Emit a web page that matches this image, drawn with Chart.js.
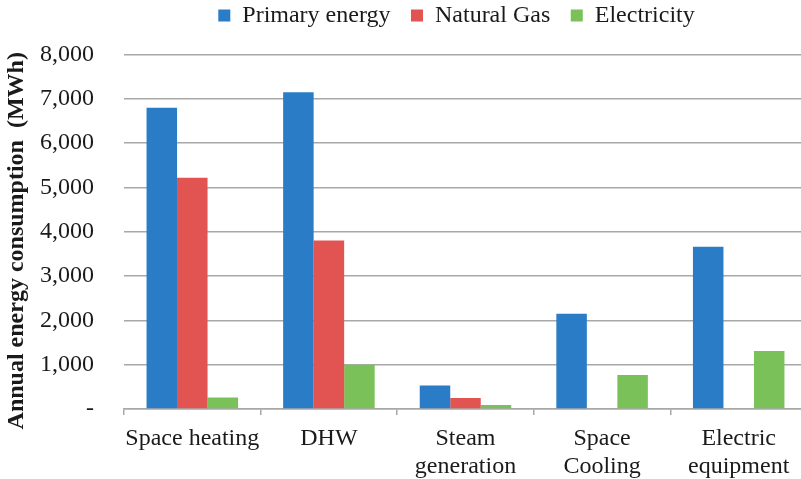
<!DOCTYPE html>
<html>
<head>
<meta charset="utf-8">
<script src="https://cdn.jsdelivr.net/npm/chart.js@4/dist/chart.umd.min.js"></script>
<style>
  html, body { margin: 0; padding: 0; background: #ffffff; overflow: hidden; }
  #wrap { width: 807px; height: 479px; position: relative; }
</style>
</head>
<body>
<div id="wrap"><canvas id="chart"></canvas></div>
<script>
// End uses and annual consumption per energy carrier (MWh)
const categories = [
  'Space heating',
  'DHW',
  ['Steam', 'generation'],
  ['Space', 'Cooling'],
  ['Electric', 'equipment']
];
const primaryEnergy = [6800, 7150, 530, 2150, 3660];
const naturalGas    = [5220, 3800, 250, 0, 0];
const electricity   = [260, 1000, 90, 770, 1310];

const seriesNames = ['Primary energy', 'Natural Gas', 'Electricity'];
const yMax = 8000;
const yStep = 1000;
const yTitle = 'Annual energy consumption  (MWh)   ';

const serif = "'Liberation Serif', 'Times New Roman', serif";
const textColor = '#1a1a1a';
const gridColor = '#a8a8a8';

// Nudge the legend into the top strip once the layout is known
const legendPlacement = {
  id: 'legendPlacement',
  afterLayout(chart) {
    const lg = chart.legend;
    if (!lg) return;
    lg.left -= 9;
    lg.right -= 9;
    lg.top -= 17;
    lg.bottom -= 17;
  }
};

new Chart(document.getElementById('chart'), {
  type: 'bar',
  data: {
    labels: categories,
    datasets: [
      { label: seriesNames[0], data: primaryEnergy, backgroundColor: '#2b7cc6' },
      { label: seriesNames[1], data: naturalGas,    backgroundColor: '#e25452' },
      { label: seriesNames[2], data: electricity,   backgroundColor: '#7bc159' }
    ]
  },
  options: {
    responsive: true,
    maintainAspectRatio: false,
    animation: false,
    layout: { padding: 0 },
    datasets: {
      bar: { categoryPercentage: 0.67, barPercentage: 1.0, borderWidth: 0 }
    },
    plugins: {
      legend: {
        position: 'top',
        fullSize: false,
        labels: {
          boxWidth: 12,
          boxHeight: 12,
          padding: 20.5,
          color: textColor,
          font: { family: serif, size: 24 }
        }
      },
      tooltip: { enabled: false }
    },
    scales: {
      x: {
        grid: {
          display: true,
          offset: true,
          drawOnChartArea: false,
          drawTicks: true,
          tickLength: 6,
          color: gridColor,
          lineWidth: 1.5
        },
        border: { display: true, color: gridColor, width: 1.5 },
        ticks: {
          color: textColor,
          padding: 10,
          maxRotation: 0,
          autoSkip: false,
          font: { family: serif, size: 24, lineHeight: 1.15 }
        },
        afterFit(scale) { scale.height = 70; }
      },
      y: {
        min: 0,
        max: yMax,
        grid: {
          color: gridColor,
          lineWidth: 1.5,
          drawTicks: false
        },
        border: { display: false },
        ticks: {
          stepSize: yStep,
          padding: 30,
          color: textColor,
          font: { family: serif, size: 24 },
          callback: (v) => v === 0 ? '-' : v.toLocaleString('en-US')
        },
        title: {
          display: true,
          text: yTitle,
          color: textColor,
          padding: { top: 2, bottom: 0 },
          font: { family: serif, size: 24, weight: 'bold' }
        },
        afterFit(scale) { scale.width = 124; }
      }
    }
  },
  plugins: [legendPlacement]
});
</script>
</body>
</html>
